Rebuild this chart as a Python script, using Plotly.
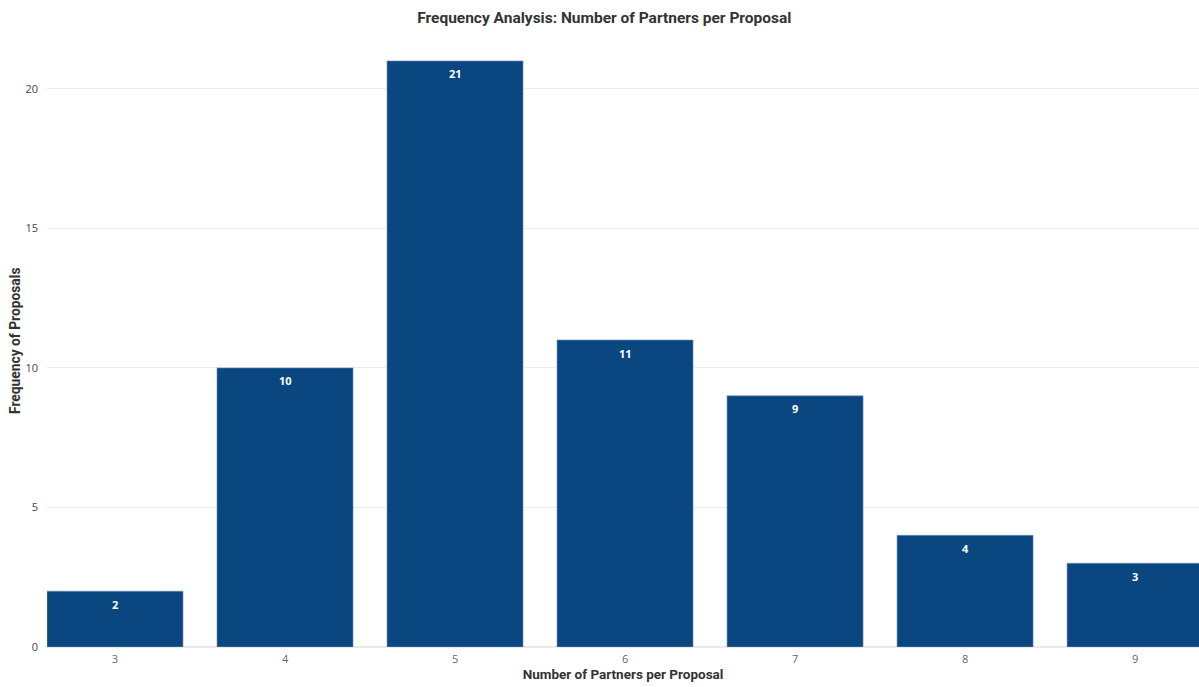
import plotly.graph_objects as go

partners = ["3", "4", "5", "6", "7", "8", "9"]
frequency = [2, 10, 21, 11, 9, 4, 3]

bar_color = "#0A4780"

fig = go.Figure(
    go.Bar(
        x=partners,
        y=frequency,
        marker=dict(color=bar_color, line=dict(color="#6F8FB0", width=0.6)),
        hoverinfo="x+y",
    )
)

for i, val in enumerate(frequency):
    fig.add_annotation(
        x=i,
        y=val,
        xref="x",
        yref="y",
        text=f"<b>{val}</b>",
        showarrow=False,
        yanchor="middle",
        yshift=-13,
        font=dict(family="Open Sans", size=11, color="white"),
    )

# y-axis title placed as rotated annotation for precise positioning
fig.add_annotation(
    x=0,
    y=0.5,
    xref="paper",
    yref="paper",
    xanchor="center",
    yanchor="middle",
    xshift=-32.5,
    yshift=2,
    textangle=-90,
    text="<b>Frequency of Proposals</b>",
    showarrow=False,
    font=dict(family="Roboto", size=13.8, color="#333333"),
)

fig.update_layout(
    width=1199,
    height=687,
    margin=dict(l=47, r=0, t=40, b=40),
    paper_bgcolor="white",
    plot_bgcolor="white",
    bargap=0.2,
    showlegend=False,
    title=dict(
        text="<b>Frequency Analysis: Number of Partners per Proposal</b>",
        x=0.504,
        xanchor="center",
        y=0.974,
        yanchor="middle",
        font=dict(family="Roboto", size=15.5, color="#333333"),
    ),
    xaxis=dict(
        type="category",
        range=[-0.4, 6.376],
        showgrid=False,
        showline=False,
        ticks="",
        ticklabelstandoff=4,
        tickfont=dict(family="Open Sans", size=11, color="#666666"),
        title=dict(
            text="<b>Number of Partners per Proposal</b>",
            font=dict(family="Roboto", size=13.5, color="#333333"),
            standoff=2,
        ),
    ),
    yaxis=dict(
        range=[0, 21.75],
        tickvals=[0, 5, 10, 15, 20],
        showgrid=True,
        gridcolor="#EAEAEA",
        gridwidth=1,
        zeroline=True,
        zerolinecolor="#EAEAEA",
        showline=False,
        ticks="",
        automargin=False,
        ticklabelstandoff=8,
        tickfont=dict(family="Open Sans", size=11, color="#444444"),
    ),
)

fig.write_html(
    "out.html",
    config={"displayModeBar": False},
    post_script="document.body.style.margin='0';document.body.style.overflow='hidden';",
)
